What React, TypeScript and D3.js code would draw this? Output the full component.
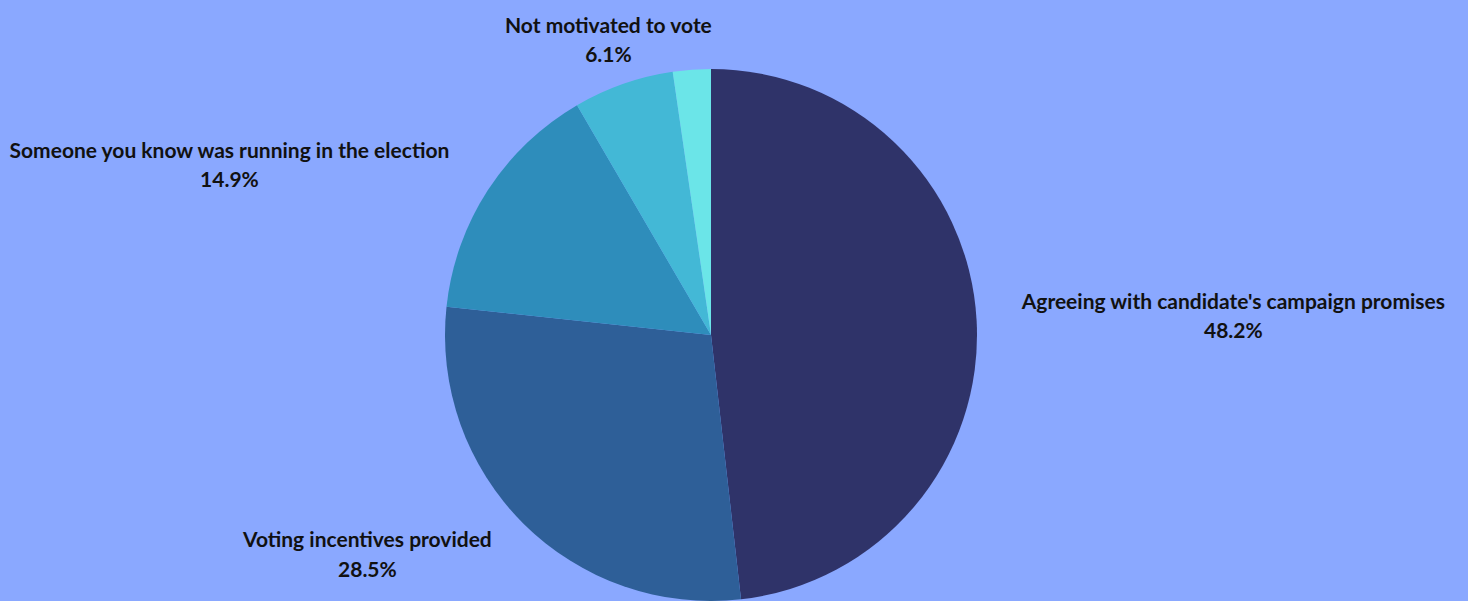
import React from 'react';
import * as d3 from 'd3';

const categories = [
  "Agreeing with candidate's campaign promises",
  'Voting incentives provided',
  'Someone you know was running in the election',
  'Not motivated to vote',
  'Other',
];
const values = [48.2, 28.5, 14.9, 6.1, 2.3];
const showLabel = [true, true, true, true, false];
const colors = ['#2f3369', '#2e5f98', '#2e8dbb', '#43b8d6', '#6be5e8'];

const W = 1468;
const H = 601;
const FONT_SIZE = 21;
const FONT_WEIGHT = 700;
const FONT = `${FONT_WEIGHT} ${FONT_SIZE}px Lato, sans-serif`;

const ctx = document.createElement('canvas').getContext('2d');
function textWidth(s: string) {
  if (!ctx) return s.length * FONT_SIZE * 0.5;
  ctx.font = FONT;
  return ctx.measureText(s).width;
}

export default function App() {
  const cx = 711;
  const cy = 335;
  const radius = 266;
  const labelR = radius + 45;

  const pie = d3.pie<number>().sort(null).value((d) => d);
  const arcs = pie(values);
  const arc = d3.arc<d3.PieArcDatum<number>>().innerRadius(0).outerRadius(radius);

  return (
    <div style={{ position: 'fixed', left: 0, top: 0, width: W, height: H, background: '#8aa8ff' }}>
      <svg width={W} height={H} style={{ display: 'block' }}>
        <g transform={`translate(${cx},${cy})`}>
          {arcs.map((a, i) => (
            <path key={i} d={arc(a) || ''} fill={colors[i]} />
          ))}
          {arcs.map((a, i) => {
            if (!showLabel[i]) return null;
            const mid = (a.startAngle + a.endAngle) / 2;
            const s = Math.sin(mid);
            const x = labelR * s;
            const y = -labelR * Math.cos(mid);
            const pct = `${values[i].toFixed(1)}%`;
            const bw = Math.max(textWidth(categories[i]), textWidth(pct));
            // centre the two-line block on its own width
            const bx = Math.abs(s) < 0.5 ? x : s > 0 ? x + bw / 2 : x - bw / 2;
            return (
              <text
                key={i}
                x={bx}
                y={y}
                textAnchor="middle"
                fontFamily="Lato, sans-serif"
                fontWeight={FONT_WEIGHT}
                fontSize={FONT_SIZE}
                fill="#111"
              >
                <tspan x={bx} dy="-0.4em">{categories[i]}</tspan>
                <tspan x={bx} dy="1.4em">{pct}</tspan>
              </text>
            );
          })}
        </g>
      </svg>
    </div>
  );
}
